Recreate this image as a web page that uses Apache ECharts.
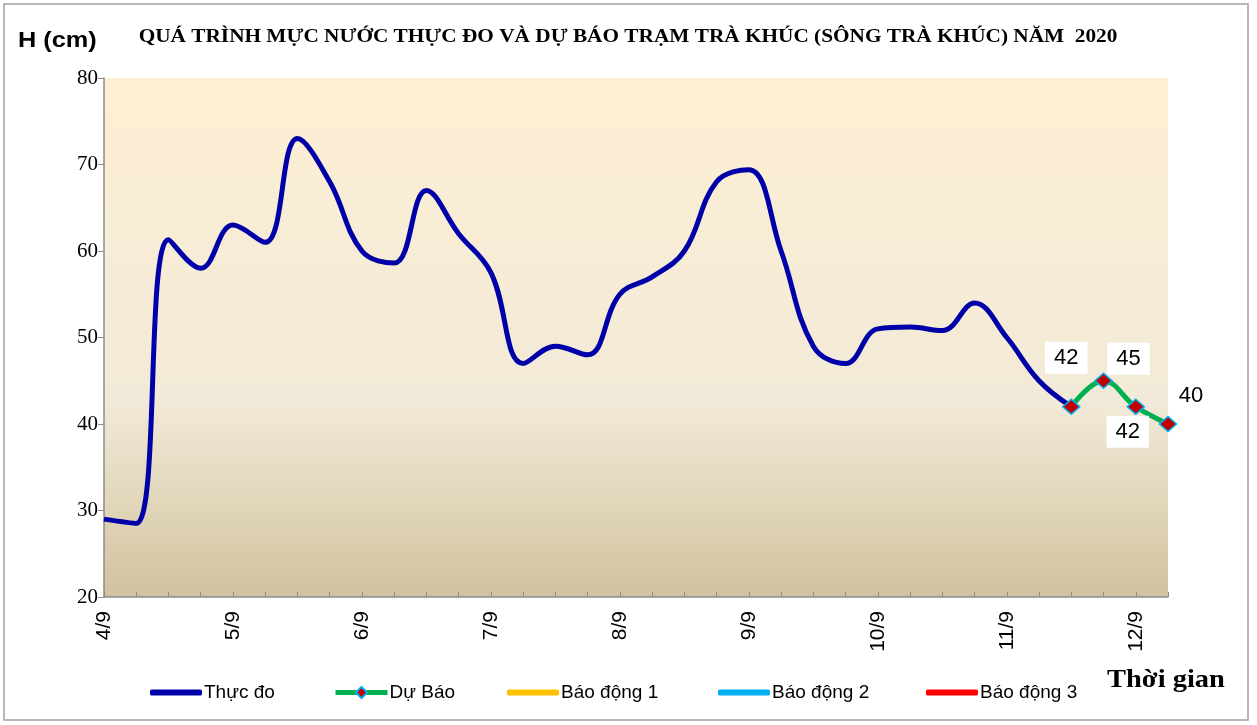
<!DOCTYPE html>
<html>
<head>
<meta charset="utf-8">
<script src="https://cdn.jsdelivr.net/npm/echarts@6/dist/echarts.min.js"></script>
<style>
html,body{margin:0;padding:0;background:#fff;}
#chart{width:1257px;height:725px;}
</style>
</head>
<body>
<div id="chart"></div>
<script>
// ---- data ----
var days = ['4/9','5/9','6/9','7/9','8/9','9/9','10/9','11/9','12/9'];
var hours = ['1h','7h','13h','19h'];
var measured = [29, 28.5, 61.3, 58, 63, 61, 73, 68, 60, 58.6, 67, 62, 57.5, 47, 49, 48, 55, 57, 60, 68, 69.4, 60, 49, 47, 51, 51.2, 50.8, 54, 50, 45, 42];
var forecast = [42, 45, 42, 40];
var forecastStart = 30;
var yTicks = {min: 20, max: 80, interval: 10};
var seriesNames = ['Thực đo', 'Dự Báo', 'Báo động 1', 'Báo động 2', 'Báo động 3'];
var alarm1 = [], alarm2 = [], alarm3 = [];

var nPoints = forecastStart + forecast.length;
var categories = [];
for (var d = 0; d < days.length; d++) {
  for (var h = 0; h < hours.length; h++) {
    if (categories.length < nPoints) categories.push(days[d] + ' ' + hours[h]);
  }
}
var forecastData = [];
for (var i = 0; i < nPoints; i++) forecastData.push(i < forecastStart ? null : forecast[i - forecastStart]);

// label placement for forecast values
var labelOffsets = [[-5, -49], [25, -22], [-8, 25], [23, -28]];
var labelBg = ['#ffffff', '#ffffff', '#ffffff', 'transparent'];
var fcData = forecastData.map(function (v, i) {
  if (v === null) return null;
  var k = i - forecastStart;
  return {
    value: v,
    label: {
      show: true, position: 'inside', offset: labelOffsets[k],
      backgroundColor: labelBg[k], padding: [5, 9],
      color: '#000', fontSize: 22, fontFamily: 'Liberation Sans, Arial'
    }
  };
});

var chart = echarts.init(document.getElementById('chart'));
var legendLefts = [145, 328, 502, 713, 921];
var legends = seriesNames.map(function (n, k) {
  var isFc = (k === 1);
  return {
    data: [isFc ? {name: n} : {name: n, icon: 'roundRect'}],
    left: legendLefts[k], top: 678,
    itemWidth: 52, itemHeight: isFc ? 14 : 6, itemGap: 0,
    lineStyle: {width: 5},
    textStyle: {fontSize: 19, fontFamily: 'Liberation Sans, Arial', color: '#000', padding: [0, 0, 0, -3]}
  };
});

chart.setOption({
  animation: false,
  backgroundColor: '#ffffff',
  legend: legends,
  grid: {
    left: 104, right: 89, top: 78, bottom: 128, show: true, borderWidth: 0,
    backgroundColor: new echarts.graphic.LinearGradient(0, 0, 0, 1, [
      {offset: 0, color: '#FDEFD3'},
      {offset: 0.35, color: '#F7ECD6'},
      {offset: 0.62, color: '#F2EAD8'},
      {offset: 0.8, color: '#E3D8BD'},
      {offset: 1, color: '#D1C29F'}
    ])
  },
  xAxis: {
    type: 'category', data: categories, boundaryGap: false,
    axisLine: {lineStyle: {color: '#8c8c8c', width: 1.5}},
    axisTick: {show: true, inside: true, length: 5, interval: 0, lineStyle: {color: '#8c8c8c'}},
    axisLabel: {
      interval: 3, rotate: 90, margin: 14, fontSize: 21, color: '#000',
      fontFamily: 'Liberation Sans, Arial',
      formatter: function (v) { return v.split(' ')[0]; }
    },
    splitLine: {show: false}
  },
  yAxis: {
    type: 'value', min: yTicks.min, max: yTicks.max, interval: yTicks.interval,
    axisLine: {show: true, lineStyle: {color: '#8c8c8c', width: 1.5}},
    axisTick: {show: true, inside: false, length: 6, lineStyle: {color: '#8c8c8c'}},
    axisLabel: {fontSize: 21, color: '#000', fontFamily: 'Liberation Serif, Times New Roman', margin: 6},
    splitLine: {show: false}
  },
  graphic: [
    {type: 'rect', shape: {x: 4, y: 4, width: 1244, height: 716}, style: {fill: 'none', stroke: '#a0a0a0', lineWidth: 1.5}, silent: true},
    {type: 'text', x: 628, y: 37, scaleX: 1.12, originX: 0, originY: 0,
      style: {text: 'QUÁ TRÌNH MỰC NƯỚC THỰC ĐO VÀ DỰ BÁO TRẠM TRÀ KHÚC (SÔNG TRÀ KHÚC) NĂM  2020',
        font: 'bold 19px Liberation Serif, Times New Roman', fill: '#000', align: 'center', verticalAlign: 'middle'}},
    {type: 'text', x: 18, y: 41, scaleX: 1.15,
      style: {text: 'H (cm)', font: 'bold 22px Liberation Sans, Arial', fill: '#000', align: 'left', verticalAlign: 'middle'}},
    {type: 'text', x: 1107, y: 681, scaleX: 1.14,
      style: {text: 'Thời gian', font: 'bold 25px Liberation Serif, Times New Roman', fill: '#000', align: 'left', verticalAlign: 'middle'}}
  ],
  series: [
    {
      name: seriesNames[0], type: 'line', data: measured, smooth: 0.4,
      symbol: 'none', lineStyle: {color: '#0000A8', width: 5}, itemStyle: {color: '#0000A8'}, z: 3
    },
    {
      name: seriesNames[1], type: 'line', data: fcData, smooth: 0.4,
      symbol: 'diamond', symbolSize: [17, 15], showAllSymbol: true,
      lineStyle: {color: '#00B050', width: 5},
      itemStyle: {color: '#C00000', borderColor: '#00B0F0', borderWidth: 1.5},
      z: 4
    },
    {name: seriesNames[2], type: 'line', data: alarm1, symbol: 'none', lineStyle: {color: '#FFC000', width: 5}, itemStyle: {color: '#FFC000'}},
    {name: seriesNames[3], type: 'line', data: alarm2, symbol: 'none', lineStyle: {color: '#00B0F0', width: 5}, itemStyle: {color: '#00B0F0'}},
    {name: seriesNames[4], type: 'line', data: alarm3, symbol: 'none', lineStyle: {color: '#FF0000', width: 5}, itemStyle: {color: '#FF0000'}}
  ]
});
</script>
</body>
</html>
